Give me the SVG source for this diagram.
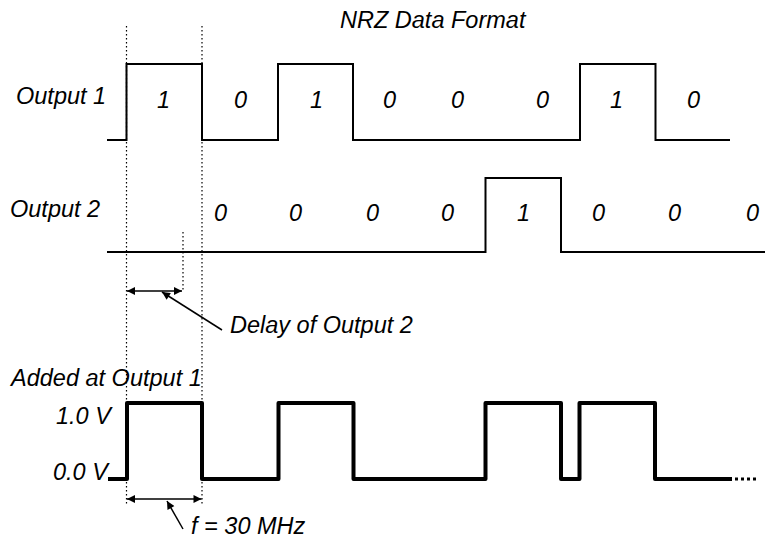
<svg xmlns="http://www.w3.org/2000/svg" width="765" height="539" viewBox="0 0 765 539">
<style>
text{font-family:"Liberation Sans",Arial,sans-serif;font-style:italic;font-size:23.5px;fill:#000}
.w{fill:none;stroke:#000;stroke-width:2}
.wt{fill:none;stroke:#000;stroke-width:4;stroke-linejoin:round}
.dot{fill:none;stroke:#000;stroke-width:1.2;stroke-dasharray:1.5,2.5}
.arr{fill:none;stroke:#000;stroke-width:1.5}
</style>
<defs>
<marker id="ah" viewBox="0 0 10 10" refX="10" refY="5" markerWidth="10" markerHeight="8" markerUnits="userSpaceOnUse" orient="auto-start-reverse">
<path d="M0,0 L10,5 L0,10 z" fill="#000"/>
</marker>
</defs>
<rect width="765" height="539" fill="#fff"/>
<text x="340" y="28">NRZ Data Format</text>
<g id="output1">
<text x="16" y="104">Output 1</text>
<path class="w" d="M107,140 H126.5 V64 H202 V140 H278 V64 H353 V140 H580 V64 H655.5 V140 H730"/>
<text x="157" y="108">1</text><text x="234" y="108">0</text><text x="310" y="108">1</text><text x="383" y="108">0</text><text x="451" y="108">0</text><text x="536" y="108">0</text><text x="610" y="108">1</text><text x="687" y="108">0</text>
</g>
<g id="output2">
<text x="10" y="217">Output 2</text>
<path class="w" d="M107,252 H485.5 V178 H561 V252 H765"/>
<text x="214" y="221">0</text><text x="289" y="221">0</text><text x="366" y="221">0</text><text x="441" y="221">0</text><text x="517" y="221">1</text><text x="592" y="221">0</text><text x="668" y="221">0</text><text x="746" y="221">0</text>
</g>
<g id="guides">
<line class="dot" x1="126.5" y1="26" x2="126.5" y2="506"/>
<line class="dot" x1="202" y1="26" x2="202" y2="506"/>
<line class="dot" x1="183" y1="232" x2="183" y2="292"/>
</g>
<g id="connectors">
<line class="arr" x1="127" y1="291" x2="182" y2="291" marker-start="url(#ah)" marker-end="url(#ah)"/>
<line class="arr" x1="222" y1="330" x2="162" y2="292" marker-end="url(#ah)"/>
<line class="arr" x1="127" y1="499" x2="201.5" y2="499" marker-start="url(#ah)" marker-end="url(#ah)"/>
<line class="arr" x1="183" y1="529" x2="167" y2="501" marker-end="url(#ah)"/>
</g>
<g id="delay-label"><text x="230" y="333">Delay of Output 2</text></g>
<g id="added">
<text x="11" y="386">Added at Output 1</text>
<text x="56" y="424">1.0 V</text>
<text x="53" y="480">0.0 V</text>
<path class="wt" d="M108,479 H127 V403 H202 V479 H278.5 V403 H353.5 V479 H485.5 V403 H561 V479 H579.5 V403 H655 V479 H732"/>
<line x1="735" y1="479" x2="758" y2="479" stroke="#000" stroke-width="3" stroke-dasharray="3,3"/>
</g>
<g id="freq-label"><text x="191" y="534">f = 30 MHz</text></g>
</svg>
